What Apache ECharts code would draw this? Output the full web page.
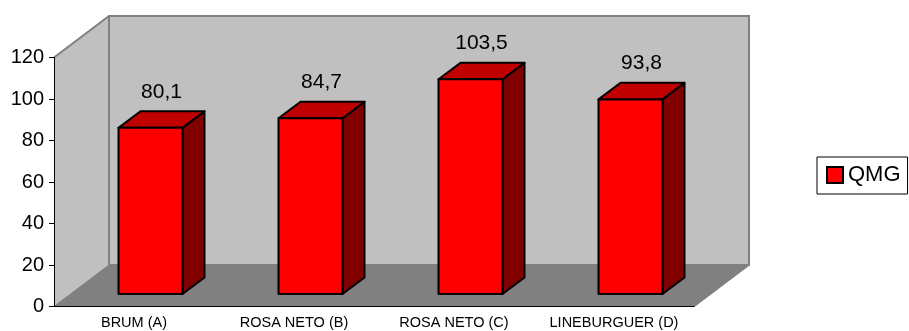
<!DOCTYPE html>
<html>
<head>
<meta charset="utf-8">
<title>QMG</title>
<script src="https://cdn.jsdelivr.net/npm/echarts@6/dist/echarts.min.js"></script>
<style>
  html, body { margin: 0; padding: 0; background: #fff; }
  #chart { width: 909px; height: 331px; }
</style>
</head>
<body>
<div id="chart"></div>
<script>
// Categories and QMG values per group
const categories = ['BRUM (A)', 'ROSA NETO (B)', 'ROSA NETO (C)', 'LINEBURGUER (D)'];
const qmgValues = [80.1, 84.7, 103.5, 93.8];
const yMin = 0;
const yMax = 120;
const yStep = 20;

// Oblique projection of the depth axis (pixels for the full floor depth)
const DEPTH_X = 55;
const DEPTH_Y = 41.5;
// Bars sit between these fractions of the floor depth
const BAR_NEAR = 0.3;
const BAR_FAR = 0.7;
const BAR_WIDTH_RATIO = 0.4;

const FONT = '"Liberation Sans", Arial, sans-serif';

function fmt(v) {
  return v.toFixed(1).replace('.', ',');
}

// Back wall, side wall and floor of the 3D box, built from the grid rectangle
function renderWalls(params, api) {
  const cs = params.coordSys;
  const x0 = cs.x, y0 = cs.y, w = cs.width, h = cs.height;
  const yb = y0 + h;
  return {
    type: 'group',
    children: [
      {
        type: 'polygon',
        shape: { points: [[x0, yb], [x0, y0], [x0 + DEPTH_X, y0 - DEPTH_Y], [x0 + DEPTH_X, yb - DEPTH_Y]] },
        style: { fill: '#C0C0C0', stroke: null }
      },
      {
        type: 'polygon',
        shape: { points: [[x0, yb], [x0 + w, yb], [x0 + w + DEPTH_X, yb - DEPTH_Y], [x0 + DEPTH_X, yb - DEPTH_Y]] },
        style: { fill: '#808080', stroke: '#808080', lineWidth: 1 }
      },
      {
        type: 'rect',
        shape: { x: x0 + DEPTH_X, y: y0 - DEPTH_Y, width: w, height: h },
        style: { fill: '#C0C0C0', stroke: '#808080', lineWidth: 2 }
      },
      {
        type: 'polygon',
        shape: { points: [[x0 + DEPTH_X, yb - DEPTH_Y], [x0 + w + DEPTH_X, yb - DEPTH_Y], [x0 + w, yb], [x0, yb]] },
        style: { fill: '#808080', stroke: null }
      },
      {
        type: 'polyline',
        shape: { points: [[x0, y0], [x0 + DEPTH_X, y0 - DEPTH_Y]] },
        style: { stroke: '#808080', lineWidth: 2, fill: null }
      },
      {
        type: 'polyline',
        shape: { points: [[x0 + w, yb], [x0 + w + DEPTH_X, yb - DEPTH_Y]] },
        style: { stroke: '#808080', lineWidth: 1.5, fill: null }
      }
    ]
  };
}

// One 3D column: front face, top face, right side face and its value label
function renderBar(params, api) {
  const idx = api.value(0);
  const val = api.value(1);
  const base = api.coord([idx, 0]);
  const top = api.coord([idx, val]);
  const band = api.size([1, 0])[0];
  const bw = band * BAR_WIDTH_RATIO;

  const nx = DEPTH_X * BAR_NEAR, ny = DEPTH_Y * BAR_NEAR;
  const fx = DEPTH_X * BAR_FAR, fy = DEPTH_Y * BAR_FAR;

  const l = base[0] - bw / 2, r = base[0] + bw / 2;
  const yB = base[1], yT = top[1];

  const front = [[l + nx, yB - ny], [l + nx, yT - ny], [r + nx, yT - ny], [r + nx, yB - ny]];
  const topFace = [[l + nx, yT - ny], [l + fx, yT - fy], [r + fx, yT - fy], [r + nx, yT - ny]];
  const side = [[r + nx, yB - ny], [r + nx, yT - ny], [r + fx, yT - fy], [r + fx, yB - fy]];

  const edge = { stroke: '#000', lineWidth: 2, lineJoin: 'round' };
  const midX = base[0] + DEPTH_X * (BAR_NEAR + BAR_FAR) / 2;

  return {
    type: 'group',
    children: [
      { type: 'polygon', shape: { points: side }, style: Object.assign({ fill: '#800000' }, edge) },
      { type: 'polygon', shape: { points: topFace }, style: Object.assign({ fill: '#C00000' }, edge) },
      { type: 'polygon', shape: { points: front }, style: Object.assign({ fill: '#FF0000' }, edge) },
      {
        type: 'text',
        style: {
          x: midX,
          y: yT - fy - 9,
          text: fmt(val),
          fill: '#000',
          font: '21px ' + FONT,
          align: 'center',
          verticalAlign: 'bottom'
        }
      }
    ]
  };
}

const chart = echarts.init(document.getElementById('chart'), null, { renderer: 'canvas' });

chart.setOption({
  animation: false,
  backgroundColor: '#fff',
  textStyle: { fontFamily: FONT },
  grid: { left: 54, top: 57.5, width: 640, height: 249, containLabel: false },
  legend: {
    data: ['QMG'],
    left: 817,
    top: 157,
    orient: 'vertical',
    icon: 'rect',
    itemWidth: 16,
    itemHeight: 16,
    padding: [7, 7, 8, 9],
    borderColor: '#000',
    borderWidth: 1,
    itemStyle: { color: '#FF0000', borderColor: '#000', borderWidth: 2 },
    textStyle: { fontSize: 22, color: '#000', fontFamily: FONT, padding: [0, 0, 0, 0] },
    selectedMode: false
  },
  xAxis: {
    type: 'category',
    data: categories,
    boundaryGap: true,
    axisLine: { lineStyle: { color: '#000', width: 1 } },
    axisTick: { length: 5, lineStyle: { color: '#000' } },
    axisLabel: { fontSize: 14.5, color: '#000', margin: 9, fontFamily: FONT, interval: 0 },
    splitLine: { show: false },
    z: 5
  },
  yAxis: {
    type: 'value',
    min: yMin,
    max: yMax,
    interval: yStep,
    axisLine: { show: true, lineStyle: { color: '#000', width: 1 } },
    axisTick: { show: true, length: 5, lineStyle: { color: '#000' } },
    axisLabel: { fontSize: 20, color: '#000', margin: 10, fontFamily: FONT },
    splitLine: { show: false },
    z: 5
  },
  series: [
    {
      name: 'walls',
      type: 'custom',
      silent: true,
      z: 1,
      data: [[0, 0]],
      encode: { x: 0, y: 1 },
      renderItem: renderWalls
    },
    {
      name: 'QMG',
      type: 'custom',
      z: 3,
      itemStyle: { color: '#FF0000' },
      data: qmgValues.map((v, i) => [i, v]),
      encode: { x: 0, y: 1 },
      renderItem: renderBar
    }
  ]
});
</script>
</body>
</html>
